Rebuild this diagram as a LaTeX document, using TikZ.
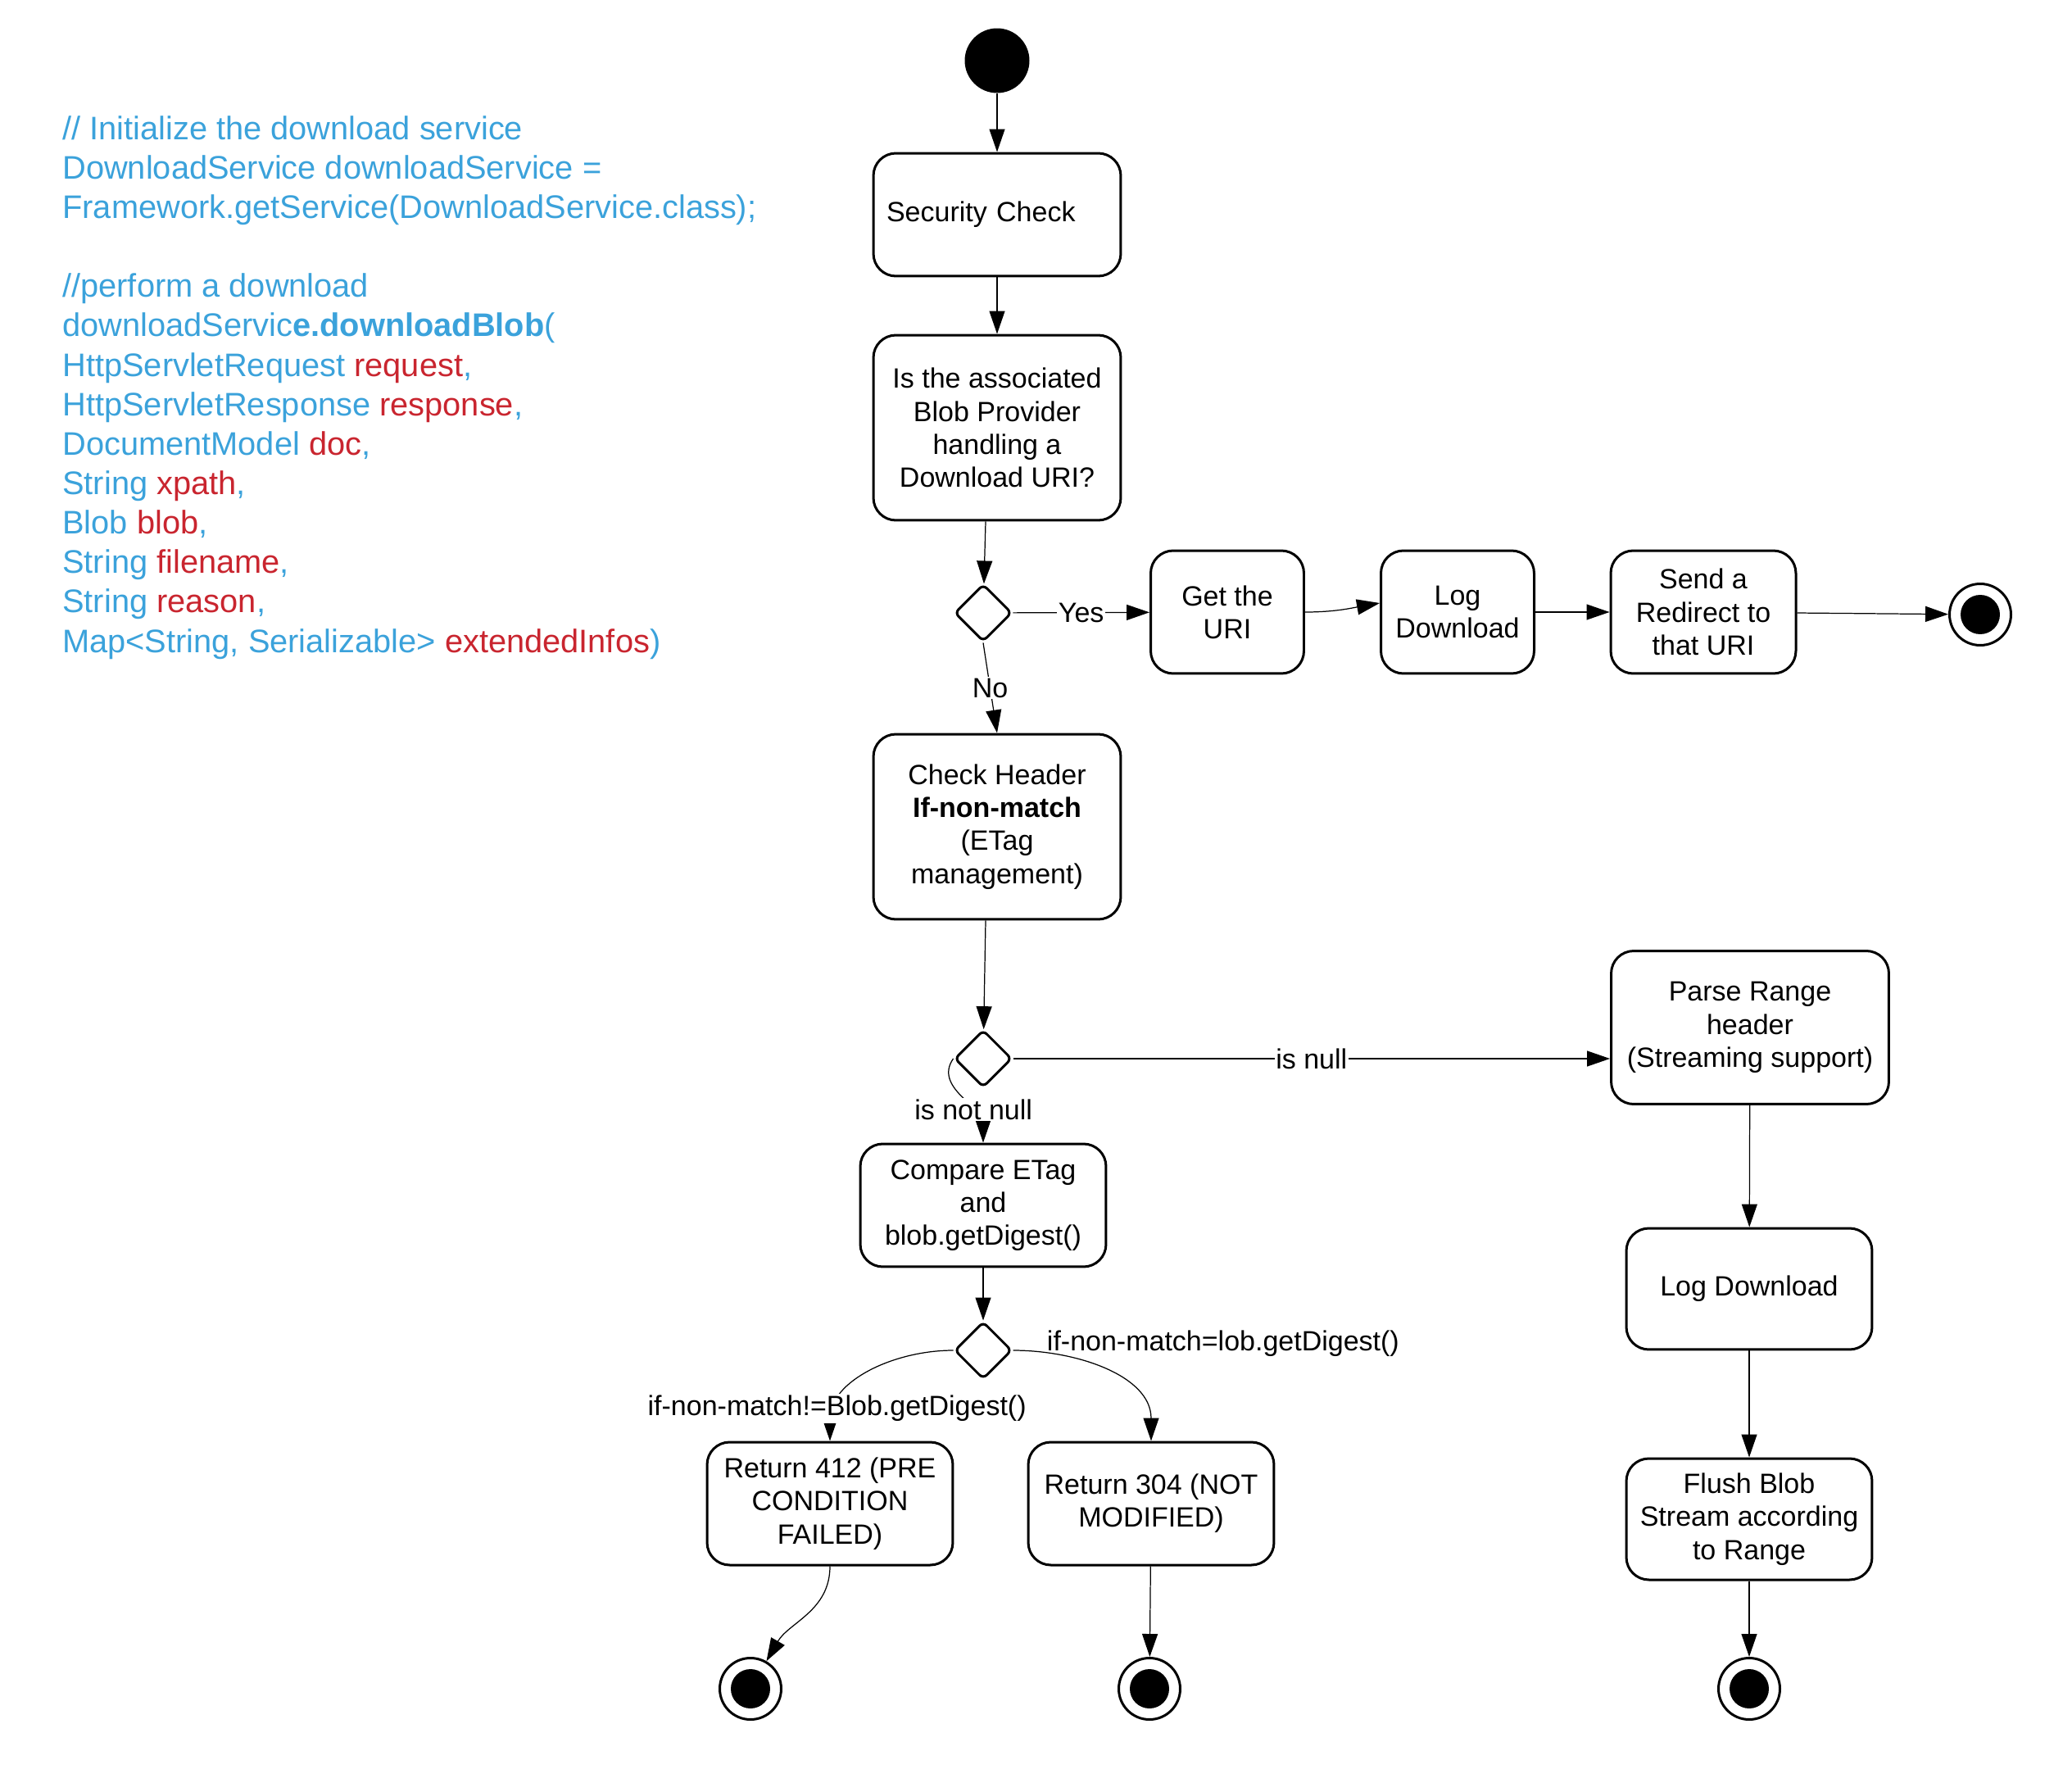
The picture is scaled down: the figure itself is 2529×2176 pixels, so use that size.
\documentclass[tikz,border=0pt]{standalone}
\usepackage{fontspec}
\setmainfont{Liberation Sans}
\usetikzlibrary{arrows.meta,shapes.geometric}
\definecolor{CodeBlue}{HTML}{3BA2DB}
\definecolor{CodeRed}{HTML}{C9252F}
\newcommand{\boxfont}{\fontsize{19.35}{22.9}\selectfont}
\newcommand{\codefont}{\fontsize{22.65}{27.4}\selectfont}
\newcommand{\param}[2]{#1 \textcolor{CodeRed}{#2}}
\tikzset{
  activity/.style={draw,line width=0.06cm,rounded corners=0.55cm,align=center,inner sep=0.3cm,font=\boxfont},
  choice/.style={draw,diamond,line width=0.06cm,rounded corners=0.12cm,minimum width=1.4cm,minimum height=1.4cm,inner sep=0pt},
  startdot/.style={circle,fill=black,minimum size=1.58cm,inner sep=0pt},
  enddot/.style={circle,draw,line width=0.06cm,minimum size=1.5cm,inner sep=0pt,
    path picture={\fill[black] (path picture bounding box.center) circle (0.48cm);}},
  flow/.style={line width=0.7pt,-{Triangle[length=0.56cm,width=0.38cm]}},
  guard/.style={fill=white,inner sep=1pt,font=\boxfont}
}

\begin{document}
\begin{tikzpicture}[x=0.02cm,y=-0.02cm]
      \useasboundingbox (0,0) rectangle (2529,2176);
      % code listing on the left
      \node[anchor=north west,align=left,inner sep=0pt,font=\codefont,text=CodeBlue] (listing) at (76,141)
        {// Initialize the download service\\
         DownloadService downloadService =\\
         Framework.getService(DownloadService.class);\\[27.4pt]
         //perform a download\\
         downloadServic\textbf{e.downloadBlob}(\\
         \param{HttpServletRequest}{request},\\
         \param{HttpServletResponse}{response},\\
         \param{DocumentModel}{doc},\\
         \param{String}{xpath},\\
         \param{Blob}{blob},\\
         \param{String}{filename},\\
         \param{String}{reason},\\
         \param{Map<String, Serializable>}{extendedInfos})};

      % activities
      \node[startdot] (start) at (1217,74) {};
      \node[activity,minimum width=6.04cm,minimum height=3cm,text width=5.4cm,align=left] (secchk) at (1217,262)
        {Security Check};
      \node[activity,minimum width=6.04cm,minimum height=4.52cm] (askuri) at (1217,522)
        {Is the associated\\Blob Provider\\handling a\\Download URI?};
      \node[choice] (dec1) at (1200,748) {};
      \node[activity,minimum width=3.74cm,minimum height=3cm] (geturi) at (1498,747)
        {Get the\\URI};
      \node[activity,minimum width=3.74cm,minimum height=3cm] (logdl1) at (1779,747)
        {Log\\Download};
      \node[activity,minimum width=4.52cm,minimum height=3cm] (redirect) at (2079,747)
        {Send a\\Redirect to\\that URI};
      \node[enddot] (end1) at (2417,750) {};
      \node[activity,minimum width=6.04cm,minimum height=4.52cm] (chkhdr) at (1217,1009)
        {Check Header\\\textbf{If-non-match}\\(ETag\\management)};
      \node[choice] (dec2) at (1200,1292) {};
      \node[activity,minimum width=6.78cm,minimum height=3.74cm] (range) at (2136,1254)
        {Parse Range\\header\\(Streaming support)};
      \node[activity,minimum width=6cm,minimum height=3cm] (cmptag) at (1200,1471)
        {Compare ETag\\and\\blob.getDigest()};
      \node[choice] (dec3) at (1200,1648) {};
      \node[activity,minimum width=6cm,minimum height=3cm] (ret412) at (1013,1835)
        {Return 412 (PRE\\CONDITION\\FAILED)};
      \node[activity,minimum width=6cm,minimum height=3cm] (ret304) at (1405,1835)
        {Return 304 (NOT\\MODIFIED)};
      \node[activity,minimum width=6cm,minimum height=2.96cm] (logdl2) at (2135,1573)
        {Log Download};
      \node[activity,minimum width=6cm,minimum height=2.96cm] (flush) at (2135,1854)
        {Flush Blob\\Stream according\\to Range};
      \node[enddot] (end2) at (916,2061) {};
      \node[enddot] (end3) at (1403,2061) {};
      \node[enddot] (end4) at (2135,2061) {};

      % transitions
      \draw[flow] (start) -- (secchk);
      \draw[flow] (secchk) -- (askuri);
      \draw[flow] ([xshift=-0.28cm]askuri.south) -- (dec1);
      \draw[flow] (dec1) -- node[guard] (yes) {Yes} (geturi);
      \draw[flow] (geturi.east) to[out=0,in=190] ([yshift=0.22cm]logdl1.west);
      \draw[flow] (logdl1) -- (redirect);
      \draw[flow] (redirect) -- (end1);
      \draw[flow] (dec1.south) -- node[guard] (no) {No} (chkhdr.north);
      \draw[flow] ([xshift=-0.28cm]chkhdr.south) -- (dec2);
      \draw[flow] (dec2.east) -- node[guard] (isnull) {is null} (dec2.east -| range.west);
      \draw[flow] (dec2.west) to[out=-125,in=90] node[guard,pos=0.64,xshift=0.1cm] (notnull) {is not null} (cmptag.north);
      \draw[flow] (cmptag) -- (dec3);
      \draw[flow] (dec3.west) to[out=180,in=90] node[guard,pos=0.8] (differ) {if-non-match!=Blob.getDigest()} (ret412.north);
      \draw[flow] (dec3.east) to[out=0,in=90] node[pos=0,anchor=south west,xshift=0.7cm,yshift=-0.28cm,font=\boxfont] (same) {if-non-match=lob.getDigest()} (ret304.north);
      \draw[flow] (ret412.south) to[out=-90,in=60] (end2);
      \draw[flow] (ret304) -- (end3);
      \draw[flow] (range) -- (logdl2);
      \draw[flow] (logdl2) -- (flush);
      \draw[flow] (flush) -- (end4);
    \end{tikzpicture}
\end{document}
